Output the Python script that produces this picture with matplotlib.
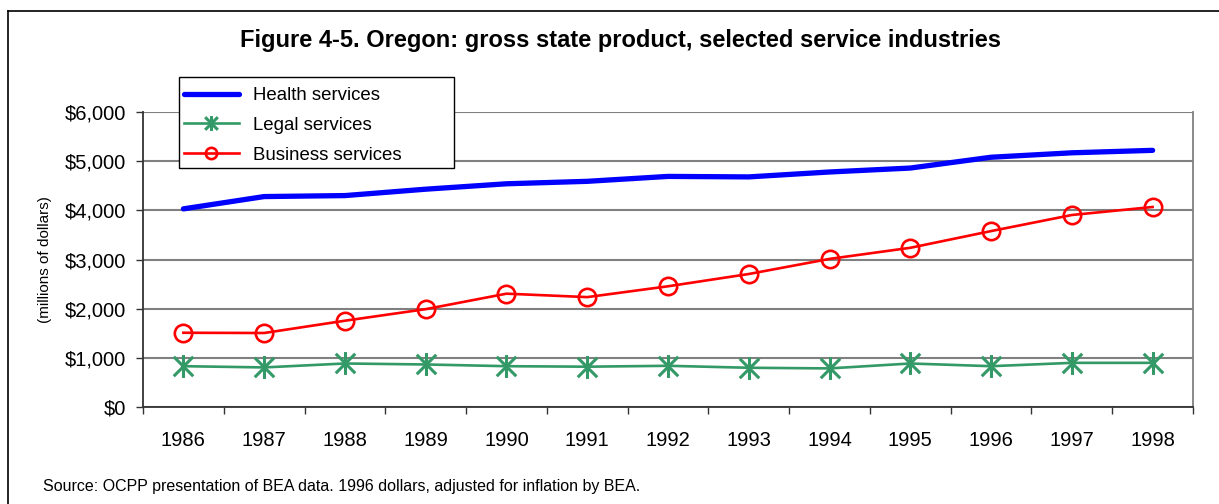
import numpy as np
import matplotlib.pyplot as plt
from matplotlib.lines import Line2D
from matplotlib.patches import Rectangle
from matplotlib.path import Path
from matplotlib.ticker import FuncFormatter

plt.rcParams['font.family'] = ['Liberation Sans', 'DejaVu Sans']

years = ['1986', '1987', '1988', '1989', '1990', '1991', '1992',
         '1993', '1994', '1995', '1996', '1997', '1998']
health = [4030, 4280, 4300, 4430, 4540, 4590, 4690, 4680, 4780, 4860, 5080, 5170, 5220]
legal = [830, 805, 885, 865, 830, 820, 838, 798, 785, 885, 830, 898, 898]
business = [1510, 1505, 1755, 1990, 2305, 2235, 2455, 2705, 3012, 3238, 3578, 3905, 4068]

# asterisk: vertical stroke plus an X
star = Path([(0, -1), (0, 1), (-0.85, -0.85), (0.85, 0.85), (-0.85, 0.85), (0.85, -0.85)],
            [Path.MOVETO, Path.LINETO, Path.MOVETO, Path.LINETO, Path.MOVETO, Path.LINETO])

W, H = 1219, 504
fig = plt.figure(figsize=(W / 100, H / 100), dpi=100)
ax = fig.add_axes([143 / W, 1 - 407 / H, 1050 / W, 295 / H])

x = np.arange(len(years))
ax.plot(x, health, color='#0000ff', lw=3.8, solid_capstyle='round',
        label='Health services', zorder=4)
ax.plot(x, legal, color='#339966', lw=1.9, marker=star, ms=16.5, mew=2.2,
        label='Legal services', zorder=3)
ax.plot(x, business, color='#ff0000', lw=1.9, marker='o', ms=12.5, mew=1.9,
        mfc='none', label='Business services', zorder=3)

ax.set_xlim(-0.5, len(years) - 0.5)
ax.set_ylim(0, 6000)
ax.set_yticks(np.arange(0, 6001, 1000))
ax.yaxis.set_major_formatter(FuncFormatter(lambda v, p: '${:,.0f}'.format(v)))
ax.grid(axis='y', color='#808080', lw=1.5, zorder=0)

# year boundaries get the tick marks, labels sit between them
ax.set_xticks(np.arange(-0.5, len(years), 1.0))
ax.set_xticklabels([])
ax.set_xticks(x, minor=True)
ax.set_xticklabels(years, minor=True, fontsize=14.5)
ax.tick_params(axis='x', which='minor', length=0, pad=17)
ax.tick_params(axis='x', which='major', length=5, width=1, color='#333333', direction='out')
ax.tick_params(axis='y', length=5, width=1, color='#333333', labelsize=14.5, pad=7)

for s in ['left', 'bottom']:
    ax.spines[s].set_color('#333333')
    ax.spines[s].set_linewidth(1.3)
ax.spines['right'].set_color('#808080')
ax.spines['right'].set_linewidth(1.3)
ax.spines['top'].set_visible(False)

fig.text(45 / W, 1 - 260 / H, '(millions of dollars)', rotation=90,
         ha='center', va='center', fontsize=11)

# legend box drawn separately so it can be wider than its entries
fig.add_artist(Rectangle((179 / W, 1 - 168 / H), 275 / W, 91 / H,
                         transform=fig.transFigure, facecolor='white',
                         edgecolor='black', lw=1, zorder=5))
handles, labels = ax.get_legend_handles_labels()
leg = fig.legend(handles, labels, loc='center left',
                 bbox_to_anchor=(184 / W, 1 - 125.5 / H), fontsize=13.4,
                 frameon=False, borderpad=0, borderaxespad=0,
                 handlelength=2.95, handletextpad=0.75, labelspacing=0.68,
                 markerscale=0.65)
leg.set_zorder(6)

fig.text(620 / W, 1 - 41 / H,
         'Figure 4-5. Oregon: gross state product, selected service industries',
         ha='center', va='center', fontsize=17, fontweight='bold')
fig.text(43 / W, 1 - 487 / H,
         'Source: OCPP presentation of BEA data. 1996 dollars, adjusted for inflation by BEA.',
         ha='left', va='center', fontsize=11.5)

# outer frame around the figure
fig.add_artist(Line2D([8 / W, 8 / W], [0, 1 - 11 / H], color='black', lw=1.2))
fig.add_artist(Line2D([8 / W, 1], [1 - 11 / H, 1 - 11 / H], color='black', lw=1.2))

fig.savefig('out.png', dpi=100)
